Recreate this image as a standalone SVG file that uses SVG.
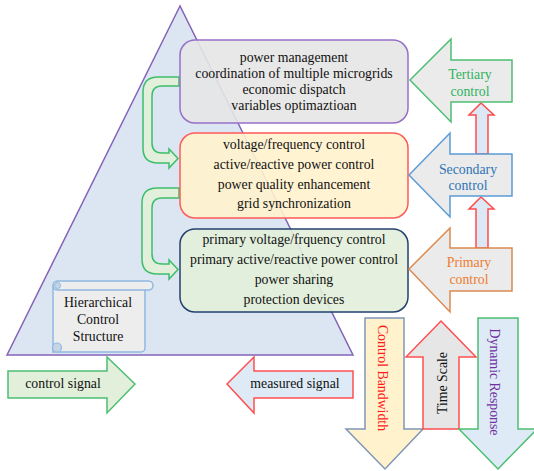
<svg xmlns="http://www.w3.org/2000/svg" width="534" height="471" viewBox="0 0 534 471" font-family="Liberation Serif, serif">
<style>
text{font-family:"Liberation Serif","Times New Roman",serif;font-size:13.8px;fill:#111;text-anchor:middle}
.box{stroke-width:1.5;fill-opacity:0.9}
.blk{stroke-width:1.5}
.uturn{fill:#e2efda;stroke:#3cbf6a;stroke-width:1.5}
.up{fill:#dce8f5;stroke:#ff4b4b;stroke-width:1.5}
</style>
<rect width="534" height="471" fill="#fff"/>
<g id="pyramid">
<polygon points="180,6 7,355 353,355" fill="#dce6f3" stroke="#8463b8" stroke-width="1.5"/>
</g>
<g id="scroll">
<path d="M53,286 H145 V348 a4,4 0 0 1 -4,4 H53 Z" fill="#ededed" stroke="#8fb8e2" stroke-width="1.5"/>
<rect x="53" y="281" width="100" height="9" rx="4.5" fill="#ededed" stroke="#8fb8e2" stroke-width="1.5"/>
<circle cx="57.5" cy="285.5" r="3" fill="#c8d4e4" stroke="#8fb8e2" stroke-width="1"/>
<circle cx="57" cy="347.5" r="4.5" fill="#c8d4e4" stroke="#8fb8e2" stroke-width="1.2"/>
<text x="98" y="307">Hierarchical</text>
<text x="98" y="324">Control</text>
<text x="98" y="341">Structure</text>
</g>
<g id="connectors">
<path class="uturn" d="M179,77 H158 Q143,77 143,92 V148 Q143,163 158,163 H169 V168 L178,158.5 L169,149 V153 H162 Q152,153 152,143 V96 Q152,86 162,86 H179 Z"/>
<path class="uturn" d="M179,188 H157 Q142,188 142,203 V259 Q142,274 157,274 H169 V279 L178,269.5 L169,260 V264 H162 Q152,264 152,254 V208 Q152,198 162,198 H179 Z"/>
<polygon class="up" points="481,103 494,115 488,115 488,154 476,154 476,115 469,115"/>
<polygon class="up" points="481,197 494,209 488,209 488,248 476,248 476,209 469,209"/>
</g>
<g id="tertiary-box">
<rect class="box" x="180" y="40" width="228" height="83" rx="15" fill="#e6e5e5" stroke="#9670c8"/>
<text x="294" y="62">power management</text>
<text x="294" y="78">coordination of multiple microgrids</text>
<text x="294" y="94">economic dispatch</text>
<text x="294" y="110">variables optimaztioan</text>
</g>
<g id="secondary-box">
<rect class="box" x="180" y="133" width="228" height="85" rx="15" fill="#fff2cc" stroke="#ff5a5a"/>
<text x="294" y="149">voltage/frequency control</text>
<text x="294" y="169">active/reactive power control</text>
<text x="294" y="189">power quality enhancement</text>
<text x="294" y="208">grid synchronization</text>
</g>
<g id="primary-box">
<rect class="box" x="180" y="229" width="228" height="83" rx="15" fill="#e2efda" stroke="#23406e"/>
<text x="294" y="244">primary voltage/frquency control</text>
<text x="294" y="264">primary active/reactive power control</text>
<text x="294" y="284">power sharing</text>
<text x="294" y="304">protection devices</text>
</g>
<g id="tertiary-control">
<polygon class="blk" points="410,80 451,39 451,60 512,60 512,102 451,102 451,122" fill="#ebebeb" stroke="#4cbf73"/>
<text x="470" y="79" style="fill:#2fb35d">Tertiary</text>
<text x="470" y="96" style="fill:#2fb35d">control</text>
</g>
<g id="secondary-control">
<polygon class="blk" points="409,175 450,133 450,154 512,154 512,196 450,196 450,217" fill="#ebebeb" stroke="#5b9bd5"/>
<text x="468" y="174" style="fill:#2e75b6">Secondary</text>
<text x="468" y="190" style="fill:#2e75b6">control</text>
</g>
<g id="primary-control">
<polygon class="blk" points="409,269 450,228 450,248 512,248 512,291 450,291 450,312" fill="#ebebeb" stroke="#dc8a50"/>
<text x="469" y="267" style="fill:#ed7d31">Primary</text>
<text x="469" y="284" style="fill:#ed7d31">control</text>
</g>
<g id="control-signal">
<polygon class="blk" points="8,371 107,371 107,357 135,384 107,413 107,398 8,398" fill="#e2efda" stroke="#4cbf73"/>
<text x="63" y="388">control signal</text>
</g>
<g id="measured-signal">
<polygon class="blk" points="227,384 254,357 254,371 353,371 353,398 254,398 254,413" fill="#deebf7" stroke="#ff5050"/>
<text x="295" y="388">measured signal</text>
</g>
<g id="control-bandwidth">
<polygon class="blk" points="365,318 404,318 404,429 423,429 385,469 346,429 365,429" fill="#fff2cc" stroke="#7f96b5"/>
<text transform="translate(383,378) rotate(90)" dy="0.35em" style="fill:#ff1a1a">Control Bandwidth</text>
</g>
<g id="time-scale">
<polygon class="blk" points="441,321 476,357 459,357 459,429 423,429 423,357 406,357" fill="#e7e6e6" stroke="#ff5050"/>
<text transform="translate(442,383) rotate(-90)" dy="0.35em">Time Scale</text>
</g>
<g id="dynamic-response">
<polygon class="blk" points="478,318 518,318 518,429 537,429 498,469 459,429 478,429" fill="#deebf7" stroke="#4cbf73"/>
<text transform="translate(495,382) rotate(90)" dy="0.35em" style="fill:#7030a0">Dynamic Response</text>
</g>
</svg>
